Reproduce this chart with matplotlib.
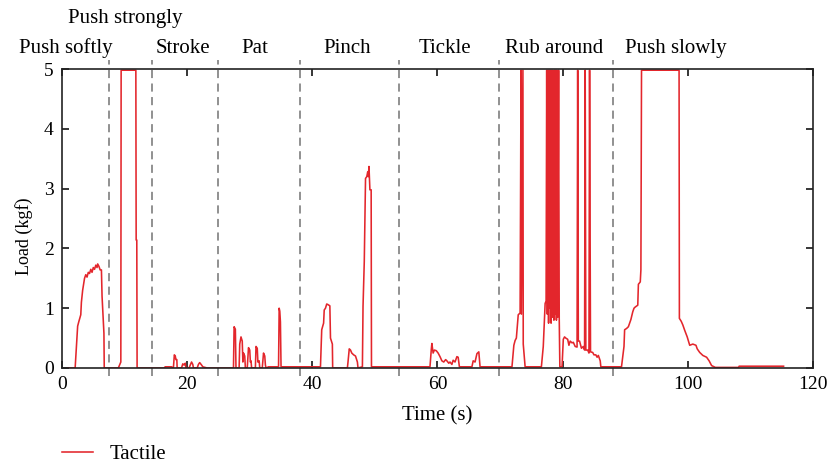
import matplotlib
matplotlib.use("Agg")
import matplotlib.pyplot as plt

plt.rcParams['font.family'] = ['Liberation Serif', 'DejaVu Serif']

# ---- data (time in s, load in kgf; 4.98 = saturated reading) ----
time_s = [
    1.0, 2.1, 2.3, 2.5, 2.7, 3.0, 3.1, 3.3, 3.6, 3.8, 4.0, 4.2, 4.4, 4.6, 4.8, 5.0, 5.2, 5.4, 5.6, 5.7,
    5.9, 6.1, 6.3, 6.4, 6.7, 6.75, 9.0, 9.2, 9.4, 9.45, 11.8, 11.85, 11.95, 12.0,
    16.3, 16.5, 17.5, 17.8, 17.95, 18.1, 18.2, 18.35, 18.4, 19.1, 19.3, 19.5, 19.7, 19.8, 20.3, 20.5,
    20.7, 20.9, 21.0, 21.6, 21.8, 22.0, 22.3, 22.5, 23.2,
    25.5, 27.4, 27.5, 27.7, 27.8, 28.3, 28.4, 28.6, 28.8, 28.9, 29.0, 29.2, 29.3, 29.6, 29.8, 30.0,
    30.1, 30.2, 30.3, 30.9, 31.0, 31.2, 31.3, 31.5, 31.6, 32.0, 32.2, 32.4, 32.5, 32.6, 33.0, 34.6,
    34.7, 34.8, 34.9, 35.0, 38.5,
    41.3, 41.5, 41.8, 41.9, 42.1, 42.3, 42.5, 42.8, 42.9, 43.2, 43.25, 45.6, 45.7, 45.9, 46.1, 46.3,
    46.6, 46.9, 47.2, 47.3, 48.0, 48.1, 48.3, 48.5, 48.7, 48.85, 48.95, 49.05, 49.2, 49.4, 49.45, 58.7,
    58.8, 59.0, 59.1, 59.3, 59.5, 59.8, 60.1, 60.4, 60.7, 61.0, 61.3, 61.5, 61.8, 62.0, 62.3, 62.5,
    62.8, 63.1, 63.3, 63.5, 65.5, 65.7, 66.0, 66.3, 66.6, 66.8, 71.9,
    72.2, 72.4, 72.6, 72.9, 73.2, 73.35, 73.4, 73.65, 73.7, 74.0, 76.6, 76.9, 77.2, 77.35, 77.45, 77.55,
    77.65, 77.75, 77.85, 77.95, 78.05, 78.15, 78.25, 78.35, 78.45, 78.6, 78.7, 78.8, 78.9, 79.0, 79.1,
    79.2, 79.35, 79.45, 79.55, 79.9, 80.1, 80.3, 80.5, 80.8, 81.0, 81.2, 81.5, 81.7, 82.0, 82.3, 82.4,
    82.5, 82.7, 83.0, 83.3, 83.5, 83.6, 83.7, 84.0, 84.2, 84.3, 84.45, 84.8, 85.0, 85.3, 85.5, 85.7,
    86.0, 86.1, 89.4,
    89.8, 89.9, 90.2, 90.5, 90.9, 91.2, 91.4, 91.6, 92.0, 92.1, 92.4, 92.5, 92.6, 98.6, 98.65, 98.95,
    99.2, 99.5, 99.9, 100.3, 100.8, 101.3, 101.5, 101.9, 102.4, 103.0, 103.4, 103.8, 104.4, 108.1,
    108.2, 115.3,
]
load_kgf = [
    0.0, 0.0, 0.36, 0.7, 0.78, 0.89, 1.1, 1.3, 1.5, 1.56, 1.52, 1.6, 1.58, 1.65, 1.6, 1.68, 1.65, 1.72, 1.68, 1.74,
    1.7, 1.64, 1.64, 1.2, 0.58, 0.0, 0.0, 0.05, 0.1, 4.98, 4.98, 2.14, 2.14, 0.0,
    0.0, 0.02, 0.02, 0.0, 0.22, 0.2, 0.14, 0.14, 0.0, 0.0, 0.07, 0.05, 0.08, 0.0, 0.0, 0.05,
    0.1, 0.06, 0.0, 0.0, 0.06, 0.09, 0.05, 0.02, 0.0,
    0.0, 0.0, 0.69, 0.65, 0.0, 0.0, 0.4, 0.52, 0.45, 0.1, 0.25, 0.2, 0.0, 0.0, 0.34, 0.3,
    0.1, 0.12, 0.0, 0.0, 0.36, 0.33, 0.1, 0.12, 0.0, 0.0, 0.25, 0.2, 0.05, 0.0, 0.02, 0.02,
    1.0, 0.95, 0.77, 0.02, 0.02,
    0.02, 0.64, 0.75, 0.97, 1.0, 1.07, 1.06, 1.04, 0.5, 0.4, 0.0, 0.0, 0.1, 0.32, 0.3, 0.25,
    0.22, 0.2, 0.1, 0.0, 0.02, 1.03, 1.78, 3.17, 3.2, 3.28, 3.2, 3.37, 2.98, 2.98, 0.02, 0.02,
    0.02, 0.3, 0.41, 0.25, 0.3, 0.29, 0.25, 0.19, 0.12, 0.1, 0.14, 0.12, 0.08, 0.1, 0.06, 0.13,
    0.1, 0.19, 0.18, 0.02, 0.02, 0.12, 0.1, 0.24, 0.27, 0.02, 0.02,
    0.38, 0.46, 0.5, 0.89, 0.92, 4.98, 0.9, 4.98, 0.4, 0.02, 0.02, 0.36, 1.08, 1.12, 4.98, 0.9,
    4.98, 0.75, 4.98, 1.0, 4.98, 0.75, 4.98, 0.85, 4.98, 0.8, 4.98, 0.9, 4.98, 0.8, 4.98,
    0.85, 4.98, 0.83, 0.02, 0.02, 0.48, 0.52, 0.5, 0.48, 0.38, 0.45, 0.42, 0.43, 0.36, 0.35, 4.98,
    0.45, 0.45, 0.33, 0.36, 0.3, 4.98, 0.3, 0.3, 0.25, 4.98, 0.27, 0.26, 0.22, 0.22, 0.18, 0.21,
    0.12, 0.02, 0.02,
    0.36, 0.64, 0.66, 0.69, 0.81, 0.94, 1.0, 1.02, 1.05, 1.4, 1.44, 1.64, 4.98, 4.98, 0.83, 0.78,
    0.72, 0.63, 0.52, 0.38, 0.4, 0.38, 0.32, 0.26, 0.21, 0.18, 0.12, 0.04, 0.01, 0.01,
    0.03, 0.03,
]

boundaries = [7.5, 14.4, 24.9, 38.0, 53.9, 69.8, 88.0]
action_labels = ["Push softly", "Push strongly", "Stroke", "Pat", "Pinch", "Tickle", "Rub around", "Push slowly"]
label_x = [0.56, 10.1, 19.3, 30.8, 45.5, 61.2, 78.7, 98.0]
label_y = [5.35, 5.85, 5.35, 5.35, 5.35, 5.35, 5.35, 5.35]
x_ticks = [0, 20, 40, 60, 80, 100, 120]
y_ticks = [0, 1, 2, 3, 4, 5]

fig = plt.figure(figsize=(8.32, 4.67), dpi=100)
ax = fig.add_axes([62/832, 1 - 368/467, 751/832, 299/467])

line, = ax.plot(time_s, load_kgf, color='#e3262c', lw=1.15, label='Tactile', zorder=2)

ax.vlines(boundaries, -0.13, 5.15, colors='#888888', linestyles=(0, (4.5, 3)), lw=1.3,
          clip_on=False, zorder=1)

for lbl, lx, ly in zip(action_labels, label_x, label_y):
    ax.text(lx, ly, lbl, ha='center', va='center', fontsize=15, clip_on=False)

ax.set_xlim(0, 120)
ax.set_ylim(0, 5)
ax.set_xticks(x_ticks)
ax.set_yticks(y_ticks)
ax.tick_params(direction='in', top=True, right=True, length=5, width=1.1, labelsize=14, pad=6)
for s in ax.spines.values():
    s.set_linewidth(1.2)
    s.set_color('#222222')
    s.set_zorder(3)

ax.set_xlabel('Time (s)', fontsize=15, labelpad=9)
ax.set_ylabel('Load (kgf)', fontsize=13)
ax.yaxis.set_label_coords(-0.038, 0.44)

fig.legend(handles=[line], loc='center left', bbox_to_anchor=(62/832, 1 - 454/467),
           frameon=False, fontsize=15, handlelength=1.5, handletextpad=0.8,
           borderaxespad=0, borderpad=0)

fig.savefig('out.png', dpi=100)
